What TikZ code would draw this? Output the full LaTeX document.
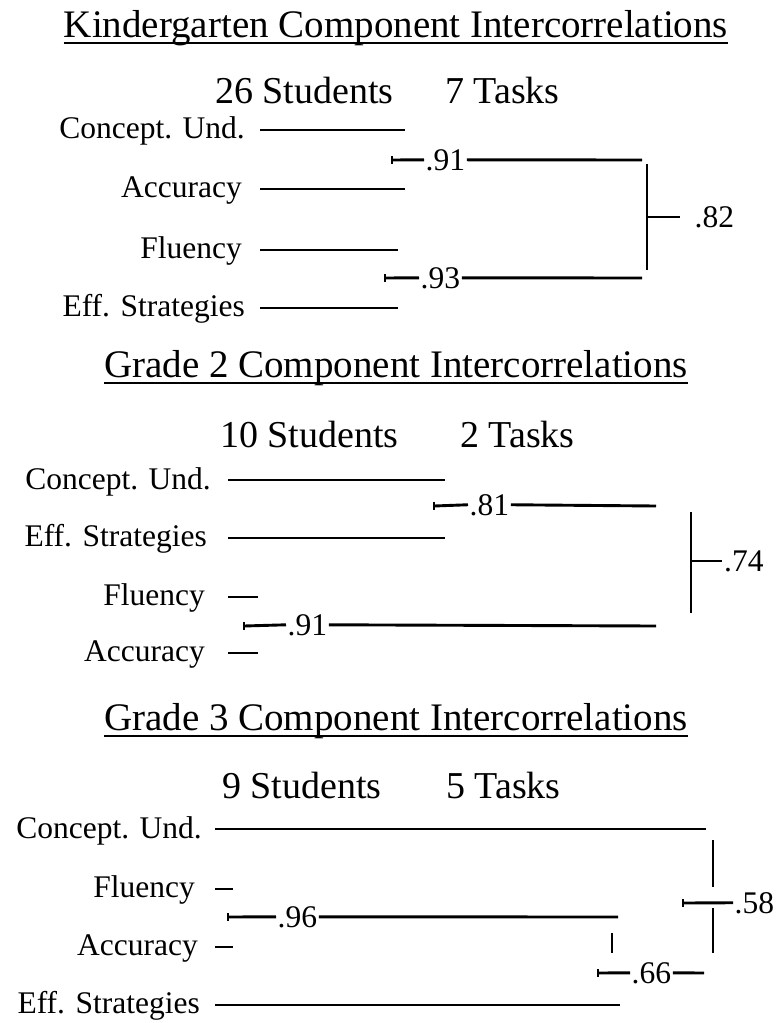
\documentclass[tikz,border=0pt]{standalone}
\usepackage{fontspec}
\setmainfont{Liberation Serif}
\begin{document}
\begin{tikzpicture}[x=1pt,y=-1pt,
  ttl/.style={inner sep=0pt,anchor=base,font=\fontsize{39}{44}\selectfont},
  hdr/.style={inner sep=0pt,anchor=base west,font=\fontsize{38}{44}\selectfont},
  lab/.style={inner sep=0pt,anchor=base east,font=\fontsize{31.5}{36}\selectfont},
  num/.style={inner sep=1.5pt,anchor=base west,font=\fontsize{31.5}{36}\selectfont},
  ln/.style={line width=2.9pt},
  tk/.style={line width=2pt},
  ul/.style={line width=2.2pt}]
\useasboundingbox (0,0) rectangle (778,1023);
% ---------- Section 1 ----------
\node[ttl] (t1) at (396,37) {Kindergarten Component Intercorrelations};
\draw[ul] ([yshift=-6pt]t1.base west) -- ([yshift=-6pt]t1.base east);
\node[hdr] (s1) at (215,103) {26 Students};
\node[hdr] (k1) at (445,103) {7 Tasks};
\node[lab] (a1) at (245,138) {Concept. Und.};
\node[lab] (b1) at (242,197) {Accuracy};
\node[lab] (c1) at (242,258) {Fluency};
\node[lab] (d1) at (245,316) {Eff. Strategies};
\coordinate (a1s) at (260,130); \coordinate (a1e) at (405,130);
\coordinate (b1s) at (260,189); \coordinate (b1e) at (405,189);
\coordinate (c1s) at (260,250); \coordinate (c1e) at (398,250);
\coordinate (d1s) at (260,308); \coordinate (d1e) at (398,308);
\draw[ln] (a1s) -- (a1e); \draw[ln] (b1s) -- (b1e);
\draw[ln] (c1s) -- (c1e); \draw[ln] (d1s) -- (d1e);
\node[num] (n91) at (424,170) {.91};
\coordinate (n91t) at (392,160); \coordinate (n91e) at (642,160);
\draw[tk] ([yshift=4pt]n91t) -- ([yshift=-4pt]n91t);
\draw[ln] (n91t) -- (n91.west); \draw[ln] (n91.east) -- (n91e);
\node[num] (n93) at (419,288) {.93};
\coordinate (n93t) at (385,278); \coordinate (n93e) at (642,278);
\draw[tk] ([yshift=4pt]n93t) -- ([yshift=-4pt]n93t);
\draw[ln] (n93t) -- (n93.west); \draw[ln] (n93.east) -- (n93e);
\coordinate (v1a) at (647,164); \coordinate (v1b) at (647,270);
\coordinate (v1m) at (647,217); \coordinate (v1r) at (680,217);
\draw[ln] (v1a) -- (v1b); \draw[ln] (v1m) -- (v1r);
\node[num] (n82) at (693,227) {.82};
% ---------- Section 2 ----------
\node[ttl] (t2) at (396,377) {Grade 2 Component Intercorrelations};
\draw[ul] ([yshift=-6pt]t2.base west) -- ([yshift=-6pt]t2.base east);
\node[hdr] (s2) at (220,447) {10 Students};
\node[hdr] (k2) at (460,447) {2 Tasks};
\node[lab] (a2) at (211,489) {Concept. Und.};
\node[lab] (b2) at (207,546) {Eff. Strategies};
\node[lab] (c2) at (205,605) {Fluency};
\node[lab] (d2) at (205,661) {Accuracy};
\coordinate (a2s) at (228,480); \coordinate (a2e) at (445,480);
\coordinate (b2s) at (228,538); \coordinate (b2e) at (445,538);
\coordinate (c2s) at (228,597); \coordinate (c2e) at (258,597);
\coordinate (d2s) at (228,653); \coordinate (d2e) at (258,653);
\draw[ln] (a2s) -- (a2e); \draw[ln] (b2s) -- (b2e);
\draw[ln] (c2s) -- (c2e); \draw[ln] (d2s) -- (d2e);
\node[num] (n81) at (468,515) {.81};
\coordinate (n81t) at (434,506); \coordinate (n81e) at (656,506);
\draw[tk] ([yshift=4pt]n81t) -- ([yshift=-4pt]n81t);
\draw[ln] (n81t) -- (n81.west); \draw[ln] (n81.east) -- (n81e);
\node[num] (n91b) at (286,635) {.91};
\coordinate (n91bt) at (244,626); \coordinate (n91be) at (656,626);
\draw[tk] ([yshift=4pt]n91bt) -- ([yshift=-4pt]n91bt);
\draw[ln] (n91bt) -- (n91b.west); \draw[ln] (n91b.east) -- (n91be);
\coordinate (v2a) at (691,512); \coordinate (v2b) at (691,613);
\coordinate (v2m) at (691,561); \coordinate (v2r) at (722,561);
\draw[ln] (v2a) -- (v2b); \draw[ln] (v2m) -- (v2r);
\node[num,inner sep=0pt] (n74) at (724,571) {.74};
% ---------- Section 3 ----------
\node[ttl] (t3) at (396,730) {Grade 3 Component Intercorrelations};
\draw[ul] ([yshift=-6pt]t3.base west) -- ([yshift=-6pt]t3.base east);
\node[hdr] (s3) at (222,798) {9 Students};
\node[hdr] (k3) at (446,798) {5 Tasks};
\node[lab] (a3) at (202,838) {Concept. Und.};
\node[lab] (b3) at (195,897) {Fluency};
\node[lab] (c3) at (198,955) {Accuracy};
\node[lab] (d3) at (200,1013) {Eff. Strategies};
\coordinate (a3s) at (215,829); \coordinate (a3e) at (706,829);
\coordinate (b3s) at (215,889); \coordinate (b3e) at (233,889);
\coordinate (c3s) at (215,947); \coordinate (c3e) at (233,947);
\coordinate (d3s) at (215,1005); \coordinate (d3e) at (620,1005);
\draw[ln] (a3s) -- (a3e); \draw[ln] (b3s) -- (b3e);
\draw[ln] (c3s) -- (c3e); \draw[ln] (d3s) -- (d3e);
\node[num] (n96) at (276,927) {.96};
\coordinate (n96t) at (228,917); \coordinate (n96e) at (618,917);
\draw[tk] ([yshift=4pt]n96t) -- ([yshift=-4pt]n96t);
\draw[ln] (n96t) -- (n96.west); \draw[ln] (n96.east) -- (n96e);
\coordinate (sk1) at (612,933); \coordinate (sk2) at (612,953);
\draw[ln] (sk1) -- (sk2);
\node[num] (n66) at (630,983) {.66};
\coordinate (n66t) at (598,973); \coordinate (n66e) at (704,973);
\draw[tk] ([yshift=4pt]n66t) -- ([yshift=-4pt]n66t);
\draw[ln] (n66t) -- (n66.west); \draw[ln] (n66.east) -- (n66e);
\coordinate (v3a) at (713,840); \coordinate (v3b) at (713,887);
\coordinate (v3c) at (713,908); \coordinate (v3d) at (713,953);
\draw[ln] (v3a) -- (v3b); \draw[ln] (v3c) -- (v3d);
\node[num] (n58) at (733,913) {.58};
\coordinate (n58t) at (683,903);
\draw[tk] ([yshift=4pt]n58t) -- ([yshift=-4pt]n58t);
\draw[ln] (n58t) -- (n58.west);
\end{tikzpicture}
\end{document}
